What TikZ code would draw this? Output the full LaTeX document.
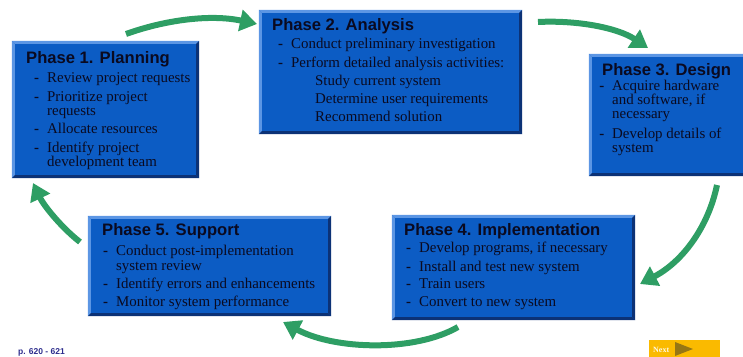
\documentclass[tikz,border=0pt]{standalone}
\usepackage{fontspec}
\setmainfont{Liberation Serif}
\newfontfamily\headfont{Liberation Sans}
\usetikzlibrary{arrows.meta,fit,calc}

\definecolor{boxblue}{RGB}{12,92,196}
\definecolor{bevlight}{RGB}{92,150,228}
\definecolor{bevdark}{RGB}{12,50,118}
\definecolor{inkdark}{RGB}{10,10,32}
\definecolor{flowgreen}{RGB}{46,158,100}
\definecolor{pagenavy}{RGB}{44,44,140}
\definecolor{btnyellow}{RGB}{250,186,0}
\definecolor{btnbrown}{RGB}{150,118,20}

\tikzset{
  phasebox/.style={fill=boxblue, draw=none, inner sep=0pt},
  titletext/.style={anchor=base west, inner sep=0pt, text=inkdark,
    font=\headfont\bfseries\fontsize{16.6}{19}\selectfont},
  itemtext/.style={anchor=base west, inner sep=0pt, text=inkdark,
    font=\fontsize{14.9}{17}\selectfont},
  flow/.style={draw=flowgreen, line width=6pt,
    -{Triangle[length=17pt,width=21pt]}},
}

% box with a bevelled frame: light on top/left, dark on right/bottom
\newcommand\phasepanel[5]{%
  \node[phasebox, fit={(#2,#3) (#4,#5)}] (#1) {};
  \fill[bevlight] (#1.north west) -- (#1.north east) -- ++(-3,3)
     -- ($(#1.north west)+(3,3)$) -- cycle;
  \fill[bevlight] (#1.north west) -- ++(3,3) -- ($(#1.south west)+(3,-3)$)
     -- (#1.south west) -- cycle;
  \fill[bevdark] (#1.north east) -- (#1.south east) -- ++(-3,-3)
     -- ($(#1.north east)+(-3,3)$) -- cycle;
  \fill[bevdark] (#1.south west) -- (#1.south east) -- ++(-3,-3)
     -- ($(#1.south west)+(3,-3)$) -- cycle;
}
\newcommand\ptitle[4]{\node[titletext] (#1) at (#2,#3) {#4};}
\newcommand\pitem[4]{\node[itemtext] (#1) at (#2,#3) {\llap{\textbf{-}\hspace{8pt}}#4};}
\newcommand\pcont[4]{\node[itemtext] (#1) at (#2,#3) {#4};}

\begin{document}
\begin{tikzpicture}[x=1pt,y=-1pt]
\useasboundingbox (0,0) rectangle (743,356);

% ---- Phase 1
\phasepanel{p1}{12}{41}{199}{178}
\ptitle{p1t}{26}{63}{Phase 1. Planning}
\pitem{p1a}{47}{82}{Review project requests}
\pitem{p1b}{47}{101}{Prioritize project}
\pcont{p1c}{47}{115}{requests}
\pitem{p1d}{47}{133}{Allocate resources}
\pitem{p1e}{47}{152}{Identify project}
\pcont{p1f}{47}{166}{development team}

% ---- Phase 2
\phasepanel{p2}{259}{10}{522}{134}
\ptitle{p2t}{272}{30}{Phase 2. Analysis}
\pitem{p2a}{291}{48}{Conduct preliminary investigation}
\pitem{p2b}{291}{67}{Perform detailed analysis activities:}
\pcont{p2c}{315}{85}{Study current system}
\pcont{p2d}{315}{103}{Determine user requirements}
\pcont{p2e}{315}{121}{Recommend solution}

% ---- Phase 3
\phasepanel{p3}{589}{54}{746}{176}
\ptitle{p3t}{602}{75}{Phase 3. Design}
\pitem{p3a}{612}{90}{Acquire hardware}
\pcont{p3b}{612}{104}{and software, if}
\pcont{p3c}{612}{118}{necessary}
\pitem{p3d}{612}{138}{Develop details of}
\pcont{p3e}{612}{152}{system}

% ---- Phase 4
\phasepanel{p4}{392}{215}{635}{320}
\ptitle{p4t}{404}{235}{Phase 4. Implementation}
\pitem{p4a}{419}{252}{Develop programs, if necessary}
\pitem{p4b}{419}{271}{Install and test new system}
\pitem{p4c}{419}{288}{Train users}
\pitem{p4d}{419}{306}{Convert to new system}

% ---- Phase 5
\phasepanel{p5}{88}{216}{331}{316}
\ptitle{p5t}{102}{235}{Phase 5. Support}
\pitem{p5a}{116}{255}{Conduct post-implementation}
\pcont{p5b}{116}{270}{system review}
\pitem{p5c}{116}{288}{Identify errors and enhancements}
\pitem{p5d}{116}{306}{Monitor system performance}

% ---- cycle arrows
\coordinate (a12s) at (126,34);  \coordinate (a12e) at (257,24);
\coordinate (a23s) at (538,22);  \coordinate (a23e) at (648,48);
\coordinate (a34s) at (717,185); \coordinate (a34e) at (640,284);
\coordinate (a45s) at (458,327); \coordinate (a45e) at (283,322);
\coordinate (a51s) at (80,242);  \coordinate (a51e) at (33,183);

\draw[flow] (a12s) .. controls (165,20) and (210,14) .. (a12e);
\draw[flow] (a23s) .. controls (578,20) and (618,28) .. (a23e);
\draw[flow] (a34s) .. controls (708,228) and (682,262) .. (a34e);
\draw[flow] (a45s) .. controls (415,352) and (335,350) .. (a45e);
\draw[flow] (a51s) .. controls (62,228) and (44,206) .. (a51e);

% ---- footer
\node[anchor=base west, inner sep=0pt, text=pagenavy,
      font=\headfont\bfseries\fontsize{8.5}{10}\selectfont] (page) at (18,354) {p. 620 - 621};
\node[fill=btnyellow, inner sep=0pt, fit={(649,340) (720,357)}] (next) {};
\node[anchor=base west, inner sep=0pt, text=white!90!btnyellow,
      font=\bfseries\fontsize{8}{9}\selectfont] (nextlbl) at (653,352) {Next};
\fill[btnbrown] (675,342) -- (693,349) -- (675,356) -- cycle;
\end{tikzpicture}
\end{document}
